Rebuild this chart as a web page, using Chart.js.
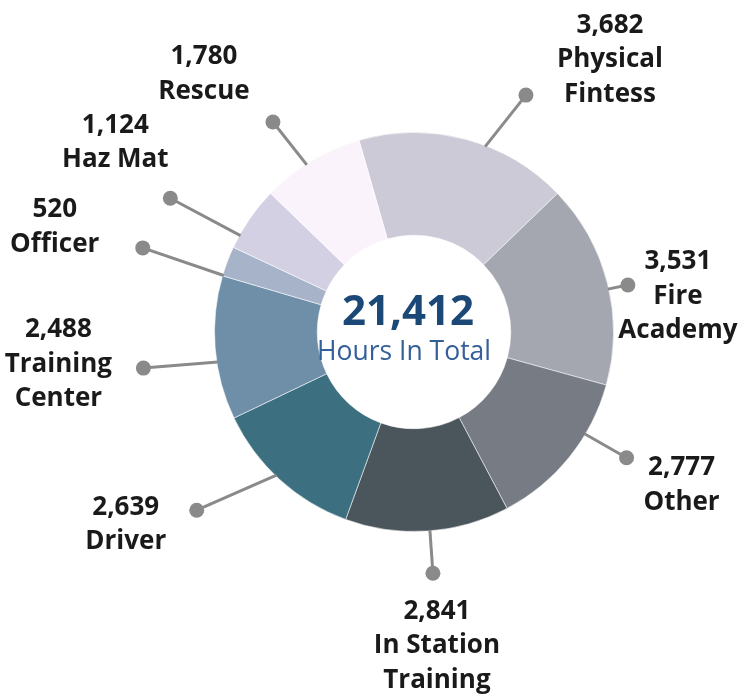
<!DOCTYPE html>
<html><head><meta charset="utf-8">
<script src="https://cdn.jsdelivr.net/npm/chart.js@4"></script>
<style>html,body{margin:0;padding:0;background:#fff}#wrap{position:relative;width:744px;height:695px}</style>
</head><body><div id="wrap"><canvas id="c"></canvas></div>
<script>
const categories = ['Physical Fintess', 'Fire Academy', 'Other', 'In Station Training', 'Driver', 'Training Center', 'Officer', 'Haz Mat', 'Rescue'];
const labelLines = [['Physical', 'Fintess'], ['Fire', 'Academy'], ['Other'], ['In Station', 'Training'], ['Driver'], ['Training', 'Center'], ['Officer'], ['Haz Mat'], ['Rescue']];
const hours = [3682, 3531, 2777, 2841, 2639, 2488, 520, 1124, 1780];
const totalHours = 21412;
const totalLabel = 'Hours In Total';

const palette = ['#cdcad7', '#a4a6b0', '#767b84', '#4b555c', '#3c6f7f', '#6f8fa8', '#a7b3c8', '#d3d0e3', '#fbf3fb'];
// leader placement: angle offsets (deg) from slice middle, dot radius, text offset from dot
const leaders = [
  {a1: 6,    a2: 10.3, r2: 262, tx: 84,  ty: -70},
  {a1: 1.8,  a2: 1.9,  r2: 219, tx: 50,  ty: -23},
  {a1: -8,   a2: -8.2, r2: 247, tx: 55,  ty: 10},
  {a1: -0.7, a2: -0.6, r2: 242, tx: 4,   ty: 38},
  {a1: 1.6,  a2: 8.4,  r2: 281, tx: -71, ty: -3},
  {a1: -4.1, a2: -3.0, r2: 273, tx: -85, ty: -38},
  {a1: -4.2, a2: -3.5, r2: 284, tx: -88, ty: -38},
  {a1: -5.5, a2: -5.8, r2: 278, tx: -55, ty: -73},
  {a1: -1.7, a2: -2.9, r2: 253, tx: -69, ty: -65}
];

const fmt = v => v.toLocaleString('en-US');

const calloutPlugin = {
  id: 'callouts',
  afterDatasetsDraw(chart) {
    const ctx = chart.ctx;
    const meta = chart.getDatasetMeta(0);
    const rad = Math.PI / 180;
    let cx = 0, cy = 0;
    ctx.save();
    meta.data.forEach((arc, i) => {
      const p = arc.getProps(['x', 'y', 'startAngle', 'endAngle', 'outerRadius'], true);
      cx = p.x; cy = p.y;
      const mid = (p.startAngle + p.endAngle) / 2;
      const c = leaders[i];
      const a1 = mid + c.a1 * rad, a2 = mid + c.a2 * rad;
      const x1 = p.x + Math.cos(a1) * (p.outerRadius - 1), y1 = p.y + Math.sin(a1) * (p.outerRadius - 1);
      const x2 = p.x + Math.cos(a2) * c.r2, y2 = p.y + Math.sin(a2) * c.r2;
      ctx.strokeStyle = '#8a8a8a';
      ctx.lineWidth = 3;
      ctx.beginPath(); ctx.moveTo(x1, y1); ctx.lineTo(x2, y2); ctx.stroke();
      ctx.fillStyle = '#8a8a8a';
      ctx.beginPath(); ctx.arc(x2, y2, 7.5, 0, Math.PI * 2); ctx.fill();
      const lines = [fmt(chart.data.datasets[0].data[i])].concat(labelLines[i]);
      ctx.fillStyle = '#1a1a1a';
      ctx.font = 'bold 26px "Open Sans"';
      ctx.textAlign = 'center';
      ctx.textBaseline = 'middle';
      lines.forEach((t, k) => ctx.fillText(t, x2 + c.tx, y2 + c.ty + k * 34.5));
    });
    ctx.textAlign = 'center';
    ctx.textBaseline = 'middle';
    ctx.fillStyle = '#1c4877';
    ctx.font = 'bold 42px "Open Sans"';
    ctx.fillText(fmt(totalHours), cx - 6, cy - 19);
    ctx.fillStyle = '#34609a';
    ctx.font = '26.5px "Open Sans"';
    ctx.fillText(totalLabel, cx - 10, cy + 20);
    ctx.restore();
  }
};

new Chart(document.getElementById('c'), {
  type: 'doughnut',
  data: {
    labels: categories,
    datasets: [{
      data: hours,
      backgroundColor: palette,
      borderColor: 'rgba(255,255,255,0.55)',
      borderWidth: 1,
      hoverOffset: 0
    }]
  },
  options: {
    responsive: true,
    maintainAspectRatio: false,
    animation: false,
    cutout: '48.5%',
    rotation: -16,
    layout: {padding: {left: 214, top: 132, right: 130, bottom: 163}},
    plugins: {legend: {display: false}, tooltip: {enabled: false}}
  },
  plugins: [calloutPlugin]
});
</script>
</body></html>
